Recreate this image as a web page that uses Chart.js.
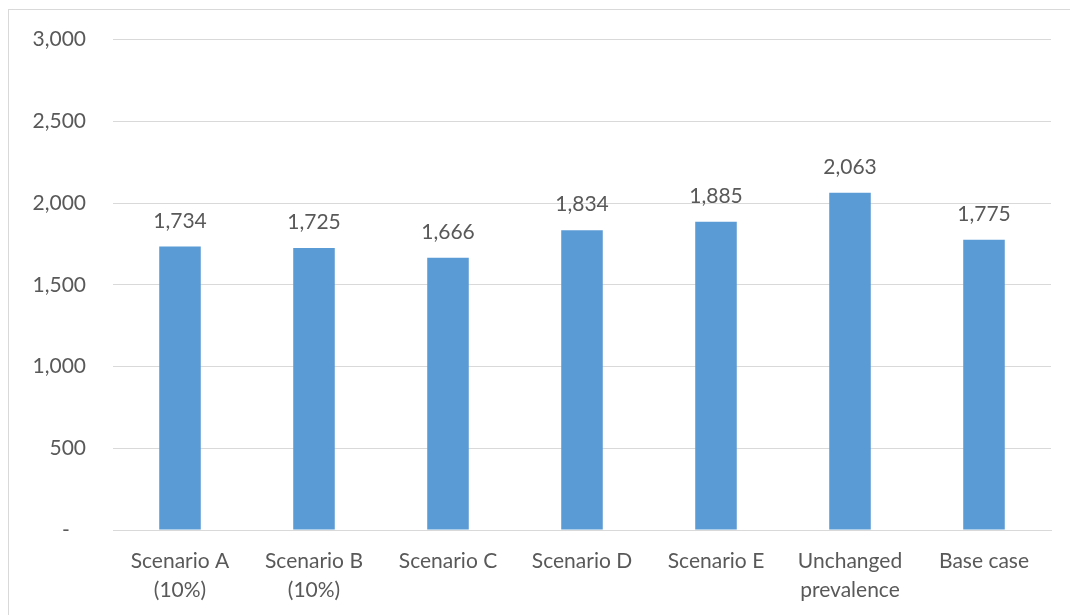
<!DOCTYPE html>
<html>
<head>
<meta charset="utf-8">
<script src="https://cdn.jsdelivr.net/npm/chart.js@4.4.1/dist/chart.umd.min.js"></script>
<style>
  html, body { margin: 0; padding: 0; background: #fff; }
  #wrap { position: relative; width: 1070px; height: 615px; overflow: hidden; }
  #frame { position: absolute; left: 8px; top: 9px; width: 1070px; height: 700px; border: 1px solid #d9d9d9; box-sizing: border-box; }
  #myChart { position: absolute; left: 0; top: 0; }
</style>
</head>
<body>
<div id="wrap">
  <div id="frame"></div>
  <canvas id="myChart" width="1070" height="615"></canvas>
</div>
<script>
const categories = [
  ['Scenario A', '(10%)'],
  ['Scenario B', '(10%)'],
  'Scenario C',
  'Scenario D',
  'Scenario E',
  ['Unchanged', 'prevalence'],
  'Base case'
];
const values = [1734, 1725, 1666, 1834, 1885, 2063, 1775];
const yTicks = [0, 500, 1000, 1500, 2000, 2500, 3000];

const textColor = '#595959';
const fontFamily = 'Lato, "Noto Sans", sans-serif';

// draw the value above each bar
const valueLabels = {
  id: 'valueLabels',
  afterDatasetsDraw(chart) {
    const ctx = chart.ctx;
    const meta = chart.getDatasetMeta(0);
    ctx.save();
    ctx.font = '21px ' + fontFamily;
    ctx.fillStyle = textColor;
    ctx.textAlign = 'center';
    ctx.textBaseline = 'bottom';
    meta.data.forEach((bar, i) => {
      ctx.fillText(values[i].toLocaleString('en-US'), bar.x, bar.y - 15);
    });
    ctx.restore();
  }
};

const ctx = document.getElementById('myChart').getContext('2d');
new Chart(ctx, {
  type: 'bar',
  data: {
    labels: categories,
    datasets: [{
      data: values,
      backgroundColor: '#5b9bd5',
      borderWidth: 0,
      categoryPercentage: 1,
      barPercentage: 0.31
    }]
  },
  options: {
    responsive: false,
    animation: false,
    layout: { padding: { left: 0, right: 19, top: 30, bottom: 0 } },
    plugins: {
      legend: { display: false },
      tooltip: { enabled: false }
    },
    scales: {
      x: {
        grid: { display: false, drawTicks: false },
        border: { display: true, color: '#d9d9d9', width: 1 },
        ticks: {
          color: textColor,
          font: { family: fontFamily, size: 21, lineHeight: 1.38 },
          padding: 17,
          maxRotation: 0,
          autoSkip: false
        },
        afterFit(scale) { scale.height = 85; }
      },
      y: {
        min: 0,
        max: 3000,
        afterBuildTicks(scale) { scale.ticks = yTicks.map(v => ({ value: v })); },
        grid: { color: '#d9d9d9', drawTicks: false },
        border: { display: false },
        ticks: {
          color: textColor,
          font: { family: fontFamily, size: 21 },
          padding: 27,
          callback: v => v === 0 ? '-   ' : v.toLocaleString('en-US')
        },
        afterFit(scale) { scale.width = 113; }
      }
    }
  },
  plugins: [valueLabels]
});
</script>
</body>
</html>
